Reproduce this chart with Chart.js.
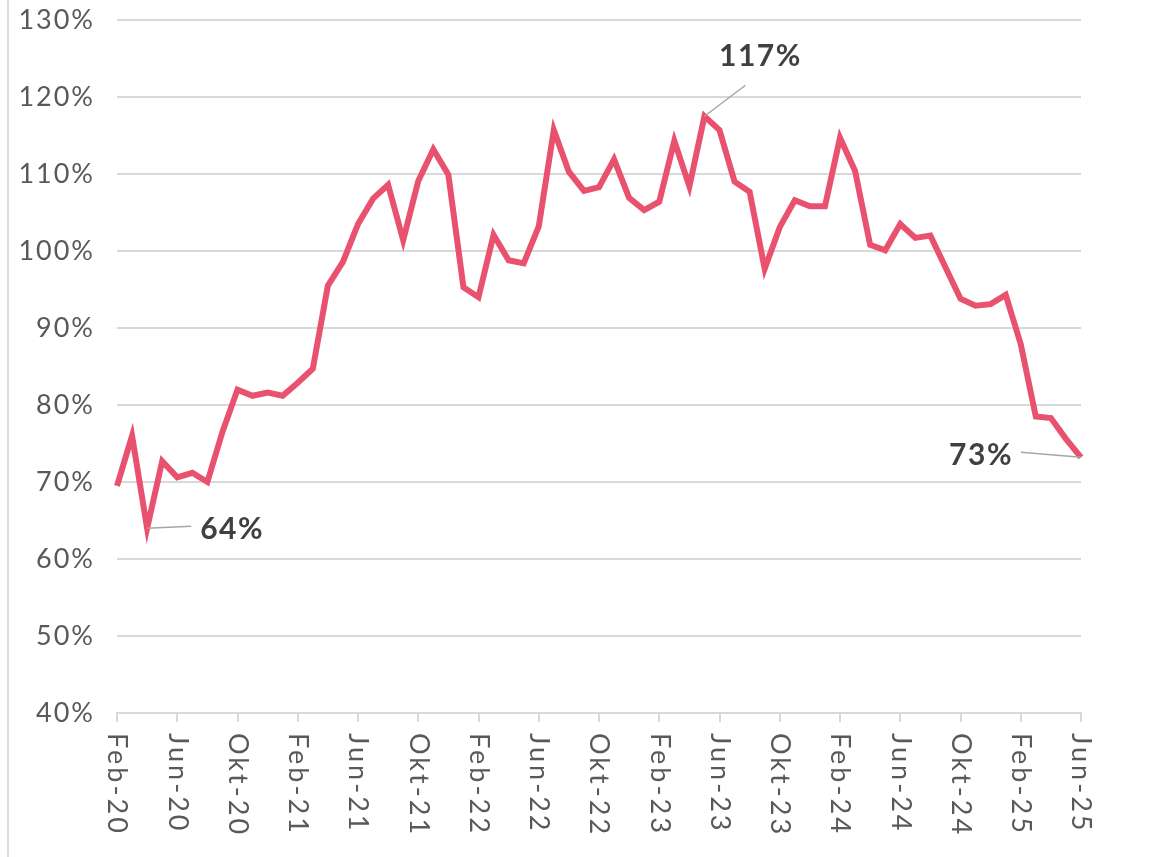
<!DOCTYPE html>
<html>
<head>
<meta charset="utf-8">
<script src="https://cdn.jsdelivr.net/npm/chart.js@4/dist/chart.umd.min.js"></script>
<style>
  html, body { margin: 0; padding: 0; background: #fff; }
  #wrap { position: relative; width: 1160px; height: 857px; }
  #wrap::before { content: ''; position: absolute; left: 7px; top: 0; bottom: 0; border-left: 2px solid #dcdcdc; }
</style>
</head>
<body>
<div id="wrap"><canvas id="chart" width="1160" height="857"></canvas></div>
<script>
const MONTH_NAMES = ['Jan', 'Feb', 'Mar', 'Apr', 'Mai', 'Jun', 'Jul', 'Aug', 'Sep', 'Okt', 'Nov', 'Des'];
const START_MONTH = 1;   // Feb
const START_YEAR  = 20;

// monthly values, Feb-20 .. Jun-25 (percent)
const VALUES = [
  69.5, 76.0, 64.0, 72.7, 70.6, 71.2, 70.0, 76.5, 82.0, 81.2, 81.6,
  81.2, 82.9, 84.7, 95.5, 98.6, 103.5, 106.8, 108.6, 101.4, 109.1, 113.2, 109.9,
  95.3, 94.0, 102.1, 98.8, 98.4, 103.2, 115.7, 110.3, 107.8, 108.3, 111.9, 106.9,
  105.3, 106.4, 114.3, 108.4, 117.5, 115.7, 109.0, 107.7, 97.7, 103.1, 106.6, 105.8,
  105.8, 114.7, 110.4, 100.8, 100.1, 103.5, 101.7, 102.0, 97.9, 93.8, 92.9, 93.1,
  94.3, 87.9, 78.5, 78.3, 75.6, 73.2
];

const LABELS = VALUES.map((_, i) => {
  const m = START_MONTH + i;
  return `${MONTH_NAMES[m % 12]}-${START_YEAR + Math.floor(m / 12)}`;
});

const Y_MIN  = 40;
const Y_MAX  = 130;
const Y_STEP = 10;
const TICK_EVERY = 4;

const CALLOUTS = [
  { index: 2,  text: '64%' },
  { index: 39, text: '117%' },
  { index: 64, text: '73%' },
];

const LINE_COLOR = '#e9526f';
const GRID_COLOR = '#d9d9d9';
const TEXT_COLOR = '#595959';
const FONT       = 'Lato, "Open Sans", sans-serif';

// where each callout's leader line ends and text sits, relative to the point
const CALLOUT_STYLE = {
  2:  { lx: 44,  ly: -2,  tx: 53,  ty: 1,   align: 'left' },
  39: { lx: 41,  ly: -31, tx: 56,  ty: -60, align: 'center' },
  64: { lx: -60, ly: -5,  tx: -68, ty: -2,  align: 'right' },
};

const overlayPlugin = {
  id: 'overlay',
  beforeDraw(chart) {
    chart.ctx.letterSpacing = '2px';
  },
  afterDraw(chart) {
    const ctx = chart.ctx;
    const xs  = chart.scales.x;

    // x labels, rotated clockwise
    ctx.save();
    ctx.letterSpacing = '3px';
    ctx.fillStyle    = TEXT_COLOR;
    ctx.font         = `27px ${FONT}`;
    ctx.textAlign    = 'left';
    ctx.textBaseline = 'middle';
    LABELS.forEach((lab, i) => {
      if (i % TICK_EVERY) return;
      const x = xs.getPixelForValue(i);
      ctx.save();
      ctx.translate(x, xs.top + 20);
      ctx.rotate(Math.PI / 2);
      ctx.fillText(lab, 0, 0);
      ctx.restore();
    });
    ctx.restore();

    // callouts
    const meta = chart.getDatasetMeta(0);
    ctx.save();
    ctx.letterSpacing = '1.5px';
    CALLOUTS.forEach(c => {
      const pt = meta.data[c.index];
      const s  = CALLOUT_STYLE[c.index];
      ctx.strokeStyle = '#a6a6a6';
      ctx.lineWidth   = 1.5;
      ctx.beginPath();
      ctx.moveTo(pt.x, pt.y);
      ctx.lineTo(pt.x + s.lx, pt.y + s.ly);
      ctx.stroke();
      ctx.fillStyle    = '#404040';
      ctx.font         = `bold 30px ${FONT}`;
      ctx.textAlign    = s.align;
      ctx.textBaseline = 'middle';
      ctx.fillText(c.text, pt.x + s.tx, pt.y + s.ty);
    });
    ctx.restore();
  },
};

new Chart(document.getElementById('chart').getContext('2d'), {
  type: 'line',
  data: {
    labels: LABELS,
    datasets: [{
      data: VALUES,
      borderColor: LINE_COLOR,
      borderWidth: 6,
      pointRadius: 0,
      tension: 0,
      borderJoinStyle: 'miter',
    }],
  },
  options: {
    responsive: false,
    animation: false,
    layout: { padding: { left: 0, right: 79, top: 20, bottom: 0 } },
    plugins: { legend: { display: false }, tooltip: { enabled: false } },
    scales: {
      x: {
        offset: false,
        grid: {
          drawOnChartArea: false,
          drawTicks: true,
          tickLength: 9,
          lineWidth: 2,
          tickColor: c => (c.index % TICK_EVERY === 0 ? GRID_COLOR : 'transparent'),
        },
        border: { color: GRID_COLOR, width: 2 },
        ticks: {
          autoSkip: false,
          minRotation: 90,
          maxRotation: 90,
          color: 'transparent',
          font: { size: 26, family: FONT },
          callback: (v, i) => (i % TICK_EVERY === 0 ? LABELS[i] : ''),
        },
        afterFit: s => { s.height = 857 - 713; s.paddingTop = 0; s.paddingBottom = 0; },
      },
      y: {
        min: Y_MIN,
        max: Y_MAX,
        grid: { color: GRID_COLOR, lineWidth: 2, drawTicks: false },
        border: { display: false },
        ticks: {
          stepSize: Y_STEP,
          padding: 22,
          color: TEXT_COLOR,
          font: { size: 27, family: FONT },
          callback: v => `${v}%`,
        },
        afterFit: s => { s.width = 117; s.paddingTop = 0; s.paddingBottom = 0; },
      },
    },
  },
  plugins: [overlayPlugin],
});
</script>
</body>
</html>
